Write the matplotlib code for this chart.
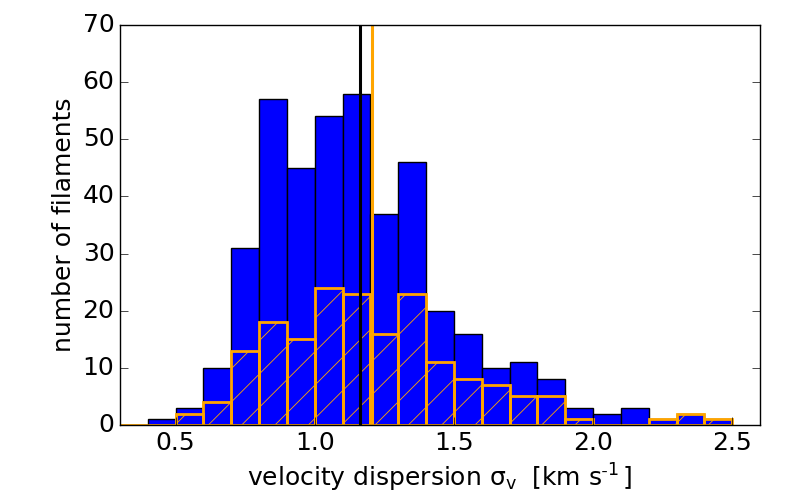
import matplotlib
matplotlib.use("Agg")
import matplotlib.pyplot as plt
import numpy as np

plt.style.use("classic")
plt.rcParams['hatch.color'] = 'orange'
plt.rcParams['hatch.linewidth'] = 0.6
plt.rcParams['axes.unicode_minus'] = False

bin_edges = [round(0.3 + 0.1 * i, 1) for i in range(23)]
all_counts = [0, 1, 3, 10, 31, 57, 45, 54, 58, 37, 46, 20, 16, 10, 11, 8, 3, 2, 3, 1, 2, 1]
sub_counts = [0, 0, 2, 4, 13, 18, 15, 24, 23, 16, 23, 11, 8, 7, 5, 5, 1, 0, 0, 1, 2, 1]
median_all = 1.163
median_sub = 1.206

fig = plt.figure(figsize=(8, 5), dpi=100)
ax = fig.add_axes([0.15, 0.15, 0.80, 0.80])

centers = np.array(bin_edges[:-1]) + 0.05
ax.hist(centers, bins=bin_edges, weights=all_counts, color='blue', edgecolor='black', linewidth=1)
ax.hist(centers, bins=bin_edges, weights=sub_counts, histtype='bar', fill=False,
        edgecolor='orange', hatch='/', linewidth=2)
ax.axvline(median_all, color='black', linewidth=2.2)
ax.axvline(median_sub, color='orange', linewidth=2.2)

ax.set_xlim(0.3, 2.6)
ax.set_ylim(0, 70)
ax.set_xticks([0.5, 1.0, 1.5, 2.0, 2.5])
ax.set_yticks(range(0, 71, 10))
ax.tick_params(labelsize=18, direction='in', length=6, top=False, right=True)
ax.xaxis.set_ticks_position('bottom')
ax.set_xlabel(r'velocity dispersion $\mathregular{\sigma_v\ }$ [km $\mathregular{s^{\text{-}1}\,}$]', fontsize=18)
ax.set_ylabel('number of filaments', fontsize=18)

fig.savefig('out.png', dpi=100, facecolor='white')
